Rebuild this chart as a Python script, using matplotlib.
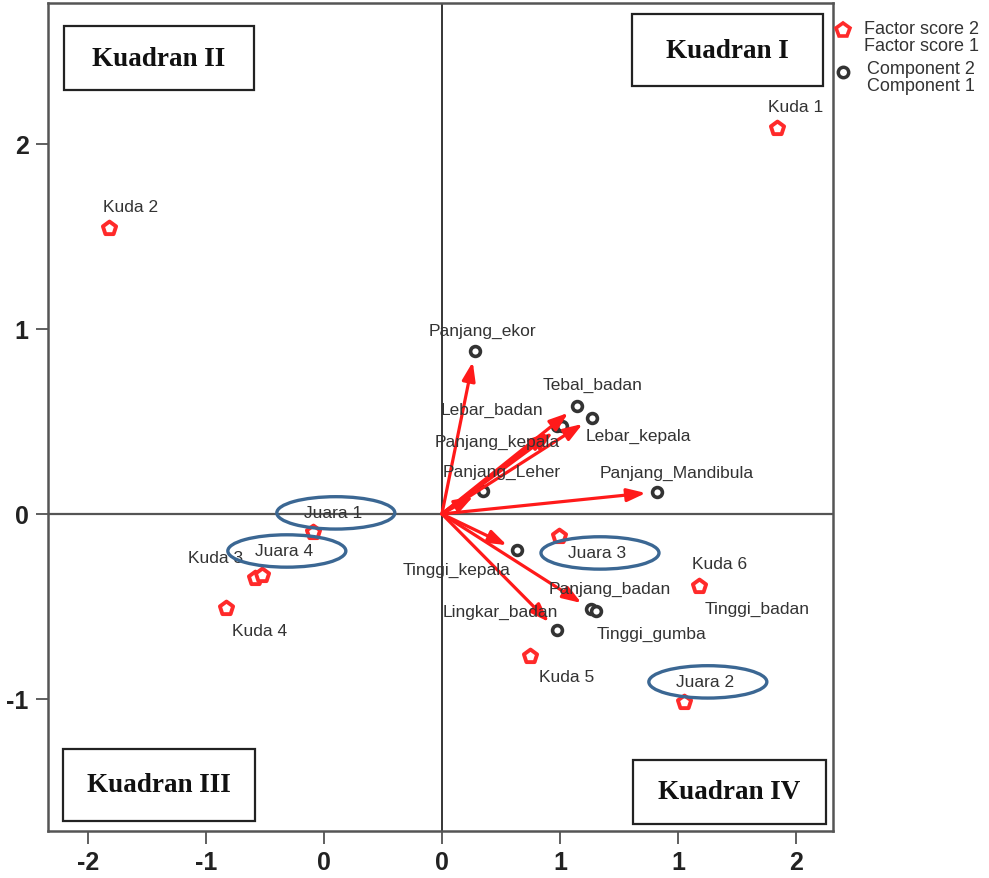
import matplotlib
matplotlib.use("Agg")
import matplotlib.pyplot as plt
from matplotlib.patches import Ellipse, Rectangle
from matplotlib.lines import Line2D
from matplotlib.transforms import offset_copy

# Object scores (factor score 1, factor score 2)
obs_names = ["Kuda 1", "Kuda 2", "Kuda 3", "Kuda 4", "Kuda 5", "Kuda 6",
             "Juara 1", "Juara 2", "Juara 3", "Juara 4"]
obs_x = [1.42, -1.41, -0.79, -0.915, 0.373, 1.089, -0.547, 1.025, 0.496, -0.763]
obs_y = [2.086, 1.546, -0.346, -0.508, -0.768, -0.389, -0.097, -1.016, -0.119, -0.330]

# Component loadings (component 1, component 2)
var_names = ["Panjang_ekor", "Tebal_badan", "Lebar_kepala", "Lebar_badan",
             "Panjang_kepala", "Panjang_Leher", "Panjang_Mandibula",
             "Tinggi_kepala", "Panjang_badan", "Tinggi_gumba",
             "Lingkar_badan", "Tinggi_badan"]
var_x = [0.140, 0.572, 0.636, 0.487, 0.508, 0.174, 0.911,
         0.318, 0.631, 0.653, 0.487, 1.089]
var_y = [0.881, 0.584, 0.519, 0.476, 0.476, 0.124, 0.119,
         -0.195, -0.514, -0.524, -0.627, -0.389]

# Loadings that get a vector from the origin
arrow_vars = ["Panjang_ekor", "Tebal_badan", "Lebar_badan", "Lebar_kepala",
              "Panjang_kepala", "Panjang_Leher", "Panjang_Mandibula",
              "Tinggi_kepala", "Panjang_badan", "Lingkar_badan"]

# Champion horses that are circled
circled = ["Juara 1", "Juara 2", "Juara 3", "Juara 4"]

x_ticks = [-1.5, -1.0, -0.5, 0.0, 0.5, 1.0, 1.5]
x_tick_labels = ["-2", "-1", "0", "0", "1", "1", "2"]
y_ticks = [-1, 0, 1, 2]
y_tick_labels = ["-1", "0", "1", "2"]

quadrants = ["Kuadran I", "Kuadran II", "Kuadran III", "Kuadran IV"]

# label offsets in pixels (dx, dy)
obs_off = {"Kuda 1": (19, 22), "Kuda 2": (21, 21), "Kuda 3": (-40, 20),
           "Kuda 4": (34, -23), "Kuda 5": (37, -20), "Kuda 6": (21, 22),
           "Juara 1": (20, 19), "Juara 2": (21, 20), "Juara 3": (38, -17),
           "Juara 4": (22, 24)}
var_off = {"Panjang_ekor": (7, 21), "Tebal_badan": (16, 21),
           "Lebar_kepala": (46, -18), "Lebar_badan": (-65, 16),
           "Panjang_kepala": (-65, -16), "Panjang_Leher": (19, 20),
           "Panjang_Mandibula": (20, 19), "Tinggi_kepala": (-60, -19),
           "Panjang_badan": (19, 21), "Tinggi_gumba": (55, -23),
           "Lingkar_badan": (-57, 18), "Tinggi_badan": (58, -23)}

W, H = 989, 879
fig = plt.figure(figsize=(W / 100, H / 100), dpi=100)
ax = fig.add_axes([48 / W, 1 - 832 / H, (833 - 48) / W, (832 - 4) / H])

ax.set_xlim(-1.669, 1.657)
ax.set_ylim(-1.714, 2.762)

ax.axvline(0, color="black", lw=1.1, zorder=1)
ax.axhline(0, color="#555555", lw=1.6, zorder=1)

lbl_color = "#333333"
lbl_font = dict(family="Liberation Sans", size=12.5, color=lbl_color)

# component loadings (drawn first so object points sit on top)
ax.scatter(var_x, var_y, s=50, marker="o", facecolors="white",
           edgecolors="#333333", linewidths=2.6, zorder=3)
for n, x, y in zip(var_names, var_x, var_y):
    ax.annotate(n, (x, y), xytext=var_off[n], textcoords="offset pixels",
                ha="center", va="center", zorder=6, **lbl_font)

# loading vectors
for n in arrow_vars:
    i = var_names.index(n)
    ax.annotate("", xy=(var_x[i], var_y[i]), xytext=(0, 0),
                arrowprops=dict(arrowstyle="-|>,head_length=0.8,head_width=0.28",
                                color="#ff1a1a", lw=2.3,
                                shrinkA=0, shrinkB=8, mutation_scale=14),
                zorder=4)

# object scores
ax.scatter(obs_x, obs_y, s=100, marker="p", facecolors="white",
           edgecolors="#ff2a2a", linewidths=2.8, zorder=5)
for n, x, y in zip(obs_names, obs_x, obs_y):
    ax.annotate(n, (x, y), xytext=obs_off[n], textcoords="offset pixels",
                ha="center", va="center", zorder=6, **lbl_font)

# circles around the champions
for n in circled:
    i = obs_names.index(n)
    dx, dy = obs_off[n]
    tr = offset_copy(ax.transData, fig=fig, x=dx + 3, y=dy, units="dots")
    ax.add_patch(Ellipse((obs_x[i], obs_y[i]), width=0.50, height=0.175,
                         transform=tr, fill=False, edgecolor="#3b6793",
                         lw=2.4, zorder=7))

# quadrant boxes
quad_font = dict(family="Liberation Serif", weight="bold", size=19.5,
                 color="#111111")
quad_pos = {"Kuadran I": ((632, 15), (823, 87)),
            "Kuadran II": ((64, 27), (254, 91)),
            "Kuadran III": ((63, 750), (255, 822)),
            "Kuadran IV": ((633, 761), (826, 825))}
for q in quadrants:
    (x0, y0), (x1, y1) = quad_pos[q]
    fig.patches.append(Rectangle((x0 / W, 1 - y1 / H), (x1 - x0) / W,
                                 (y1 - y0) / H, transform=fig.transFigure,
                                 fc="white", ec="#222222", lw=1.6, zorder=8))
    fig.text((x0 + x1) / 2 / W, 1 - (y0 + y1) / 2 / H, q, ha="center",
             va="center", zorder=9, **quad_font)

ax.set_xticks(x_ticks)
ax.set_xticklabels(x_tick_labels)
ax.set_yticks(y_ticks)
ax.set_yticklabels(y_tick_labels)
for t in ax.get_xticklabels() + ax.get_yticklabels():
    t.set_family("Liberation Sans")
    t.set_weight("bold")
    t.set_fontsize(18)
    t.set_color("#222222")
ax.tick_params(direction="out", length=9, width=1.2, color="#444444", pad=5)

for s in ax.spines.values():
    s.set_color("#555555")
    s.set_linewidth(1.8)

# legend at the right of the plot frame
leg_font = dict(family="Liberation Sans", size=13, color=lbl_color)
fig.add_artist(Line2D([843 / W], [1 - 31 / H], marker="p", markersize=10,
                      markerfacecolor="white", markeredgecolor="#ff2a2a",
                      markeredgewidth=2.6, transform=fig.transFigure))
fig.text(921 / W, 1 - 38 / H, "Factor score 2\nFactor score 1", ha="center",
         va="center", multialignment="right", linespacing=1.05, **leg_font)
fig.add_artist(Line2D([843 / W], [1 - 73 / H], marker="o", markersize=7.5,
                      markerfacecolor="white", markeredgecolor="#333333",
                      markeredgewidth=2.5, transform=fig.transFigure))
fig.text(921 / W, 1 - 78 / H, "Component 2\nComponent 1", ha="center",
         va="center", multialignment="center", linespacing=1.05, **leg_font)

fig.savefig("out.png", dpi=100)
